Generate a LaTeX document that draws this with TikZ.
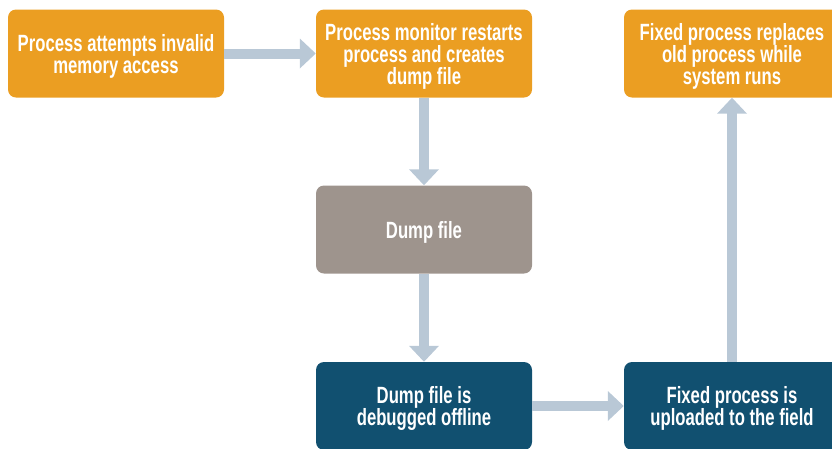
\documentclass[tikz,border=0pt]{standalone}
\usepackage{fontspec}
\setmainfont{Liberation Sans}[FakeStretch=0.71]
\usetikzlibrary{arrows.meta}
\definecolor{procorange}{HTML}{EB9E22}
\definecolor{dumpgray}{HTML}{9E948D}
\definecolor{deepblue}{HTML}{115070}
\definecolor{flowarrow}{HTML}{B9C8D6}
\tikzset{
  stage/.style={rounded corners=8pt, minimum width=216pt, minimum height=88pt,
    inner sep=0pt, text=white, align=center, text depth=0pt,
    font=\bfseries\fontsize{23.5}{22}\selectfont},
  orangebox/.style={stage, fill=procorange},
  graybox/.style={stage, fill=dumpgray},
  bluebox/.style={stage, fill=deepblue},
  flow/.style={draw=flowarrow, line width=10pt,
    -{Triangle[length=16pt, width=29pt]}, shorten >=0pt}
}
\begin{document}
\begin{tikzpicture}[x=1pt, y=-1pt]
  \useasboundingbox (0,0) rectangle (832,448);
  \clip (0,0) rectangle (832,448);
  \node[orangebox] (attempt) at (116,53.5) {Process attempts invalid\\memory access};
  \node[orangebox] (restart) at (424,53.5) {Process monitor restarts\\process and creates\\dump file};
  \node[orangebox] (replace) at (732,53.5) {Fixed process replaces\\old process while\\system runs};
  \node[graybox] (dump) at (424,229.5) {Dump file};
  \node[bluebox] (debug) at (424,406) {Dump file is\\debugged offline};
  \node[bluebox] (upload) at (732,406) {Fixed process is\\uploaded to the field};
  \draw[flow] (attempt.east) -- (restart.west);
  \draw[flow] (restart.south) -- (dump.north);
  \draw[flow] (dump.south) -- (debug.north);
  \draw[flow] (debug.east) -- (upload.west);
  \draw[flow] (upload.north) -- (replace.south);
\end{tikzpicture}
\end{document}
